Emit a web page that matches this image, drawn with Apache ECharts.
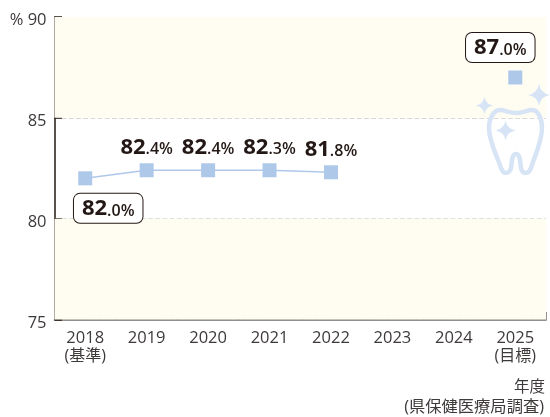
<!DOCTYPE html>
<html>
<head>
<meta charset="utf-8">
<script src="https://cdn.jsdelivr.net/npm/echarts@6/dist/echarts.min.js"></script>
<style>
    html, body { margin: 0; padding: 0; background: #fff; }
    #main { width: 550px; height: 417px; }
</style>
</head>
<body>
<div id="main"></div>
<script>
    var years = ['2018', '2019', '2020', '2021', '2022', '2023', '2024', '2025'];
    var yearNotes = ['(基準)', '', '', '', '', '', '', '(目標)'];
    // marker heights as drawn in the picture
    var rates = [82.0, 82.4, 82.4, 82.4, 82.3, null, null, 87.0];
    // printed labels, these differ from the marker heights for 2021 and 2022
    var labelWhole = ['82', '82', '82', '82', '81', '', '', '87'];
    var labelDecimal = ['.0%', '.4%', '.4%', '.3%', '.8%', '', '', '.0%'];
    var yTicks = [75, 80, 85, 90];
    var bands = [[75, 80], [85, 90]];

    var fontName = '"Open Sans", "Noto Sans CJK JP", sans-serif';
    var textColor = '#3e3a39';
    var darkColor = '#231815';
    var blue = '#aec8ea';
    var paleBlue = '#d6e4f5';

    function star(cx, cy, r) {
        var k = r * 0.14;
        return 'M' + cx + ' ' + (cy - r) +
            'Q' + (cx + k) + ' ' + (cy - k) + ' ' + (cx + r) + ' ' + cy +
            'Q' + (cx + k) + ' ' + (cy + k) + ' ' + cx + ' ' + (cy + r) +
            'Q' + (cx - k) + ' ' + (cy + k) + ' ' + (cx - r) + ' ' + cy +
            'Q' + (cx - k) + ' ' + (cy - k) + ' ' + cx + ' ' + (cy - r) + 'Z';
    }

    var toothPath = 'M516 113C523 113 527 110 532 110C538 110 542 118 542 128C542 142 534 158 531 168' +
        'C529 174 522 175 521 168C520 160 520 154 516 154C512 154 512 160 511 168' +
        'C509 175 503 174 501 168C498 158 489 142 489 128C489 118 494 110 500 110C505 110 509 113 516 113Z';

    // the graphic component has no plain path type, so register the drawings as shapes
    echarts.graphic.registerShape('toothShape', echarts.graphic.extendPath(toothPath, {}));
    echarts.graphic.registerShape('starShape', echarts.graphic.extendPath(
        star(539, 95, 11) + star(484.5, 105.5, 8.7) + star(505.5, 130.5, 10), {}));

    var labelRich = {
        big: { fontFamily: fontName, fontSize: 22, fontWeight: 700, color: darkColor },
        small: { fontFamily: fontName, fontSize: 16, fontWeight: 600, color: darkColor, padding: [5, 0, 0, 0] }
    };

    var seriesData = rates.map(function (v, i) {
        var item = { value: v };
        // 2018 and 2025 carry a rounded box, moved off to the side of the marker
        if (i === 0) {
            item.label = {
                position: 'bottom', offset: [23, 3.5],
                backgroundColor: '#fff', borderColor: darkColor, borderWidth: 1, borderRadius: 6,
                padding: [4, 8, 3, 8]
            };
        }
        if (i === 7) {
            item.label = {
                position: 'top', offset: [-15, -3.5],
                backgroundColor: '#fff', borderColor: darkColor, borderWidth: 1, borderRadius: 6,
                padding: [4, 8, 3, 8]
            };
        }
        return item;
    });

    var mycharts = echarts.init(document.getElementById('main'), null, { renderer: 'canvas' });
    var option = {
        animation: false,
        backgroundColor: '#fff',
        grid: { left: 54.5, right: 4, top: 17, bottom: 97.5 },
        xAxis: {
            type: 'category',
            data: years,
            boundaryGap: true,
            axisLine: { lineStyle: { color: '#6e6a66', width: 1.5 } },
            axisTick: { show: true, inside: true, length: 7.5, alignWithLabel: false, lineStyle: { color: '#6e6a66', width: 1.5 } },
            axisLabel: {
                interval: 0,
                margin: 9,
                formatter: function (v, i) {
                    return '{y|' + v + '}' + (yearNotes[i] ? '\n{n|' + yearNotes[i] + '}' : '');
                },
                rich: {
                    y: { fontFamily: fontName, fontSize: 16.5, color: textColor, lineHeight: 19 },
                    n: { fontFamily: fontName, fontSize: 16, color: textColor, lineHeight: 17 }
                }
            }
        },
        yAxis: {
            type: 'value',
            min: yTicks[0],
            max: yTicks[yTicks.length - 1],
            interval: 5,
            axisLine: { show: true, lineStyle: { color: darkColor, width: 1.5 } },
            axisTick: { show: true, inside: true, length: 7.5, lineStyle: { color: darkColor, width: 1.5 } },
            axisLabel: {
                margin: 8,
                formatter: function (v) { return '{t|' + (v === 90 ? '% ' + v : v) + '}'; },
                rich: {
                    // top padding pushes the numbers a little below their tick
                    t: { fontFamily: fontName, fontSize: 16.5, color: textColor, padding: [7, 0, 0, 0] }
                }
            },
            splitLine: { show: true, lineStyle: { color: '#d9d9d6', type: 'dashed', width: 1.2 } }
        },
        series: [{
            type: 'line',
            data: seriesData,
            connectNulls: false,
            showSymbol: true,
            symbol: 'rect',
            symbolSize: 14,
            itemStyle: { color: blue },
            lineStyle: { color: blue, width: 1.5 },
            label: {
                show: true,
                position: 'top',
                distance: 5,
                formatter: function (p) {
                    return '{big|' + labelWhole[p.dataIndex] + '}{small|' + labelDecimal[p.dataIndex] + '}';
                },
                rich: labelRich
            },
            markArea: {
                silent: true,
                itemStyle: { color: '#fffdf2' },
                data: bands.map(function (b) {
                    return [{ yAxis: b[0] }, { yAxis: b[1] }];
                })
            }
        }],
        graphic: [
            { type: 'toothShape', z: 10, style: { fill: 'none', stroke: paleBlue, lineWidth: 4.5 } },
            { type: 'starShape', z: 10, style: { fill: paleBlue } },
            { type: 'text', right: 5, top: 380, style: { text: '年度', fontFamily: fontName, fontSize: 15.5, fill: textColor } },
            { type: 'text', right: 6, top: 399.5, style: { text: '(県保健医療局調査)', fontFamily: fontName, fontSize: 16.3, fill: textColor } }
        ]
    };
    mycharts.setOption(option);
</script>
</body>
</html>
